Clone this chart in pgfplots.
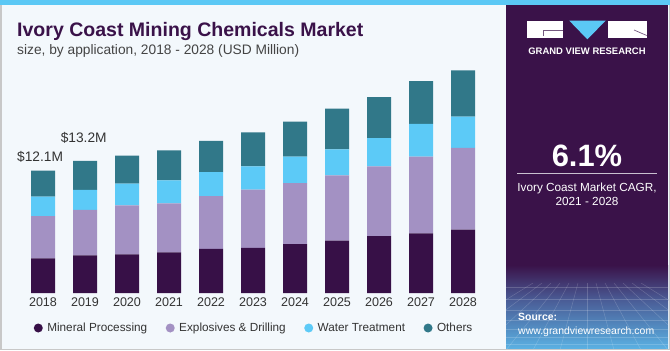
\documentclass[border=0pt]{standalone}
\usepackage{pgfplots}
\pgfplotsset{compat=1.18}
\usepackage{fontspec}
\setmainfont{Liberation Sans}
\definecolor{bgc}{HTML}{F3F8FC}
\definecolor{stripe}{HTML}{5BC8F5}
\definecolor{bordergray}{HTML}{C8C8C8}
\definecolor{panel}{HTML}{3A1249}
\definecolor{midc}{HTML}{4A5C96}
\definecolor{lowc}{HTML}{5AB0E2}
\definecolor{titlec}{HTML}{3A1249}
\definecolor{subc}{HTML}{444444}
\definecolor{tickc}{HTML}{333333}
\definecolor{mineral}{HTML}{371047}
\definecolor{explos}{HTML}{A391C3}
\definecolor{water}{HTML}{5CCAF7}
\definecolor{others}{HTML}{317889}
\definecolor{linec}{HTML}{C9C0D0}
\pgfplotsset{dotlegend/.style={legend image code/.code={\fill[##1] (0bp,0bp) circle (4.5bp);}}}
\begin{document}
\begin{tikzpicture}[x=1bp,y=1bp]
\useasboundingbox (0,0) rectangle (670,350);
\fill[bgc] (0,0) rectangle (670,350);
% right panel
\fill[panel] (506,0) rectangle (668,350);
\shade[top color=panel, bottom color=midc] (506,50) rectangle (668,85);
\shade[top color=midc, bottom color=lowc] (506,2) rectangle (668,50.2);
\begin{scope}
\clip (506,2) rectangle (668,67);
\foreach \yy in {6,13,21,30,40,51,63} \draw[white, opacity=0.18, line width=0.5] (506,\yy) -- (668,\yy);
\foreach \xx in {-90,-75,...,90} \draw[white, opacity=0.18, line width=0.5] (587+\xx*0.6,67) -- (587+\xx*1.8,0);
\end{scope}
% borders
\fill[bordergray] (0,0) rectangle (1.5,350);
\fill[bordergray] (668.5,0) rectangle (670,350);
\fill[bordergray] (0,0) rectangle (670,1.5);
\fill[stripe] (0,345) rectangle (670,350);
% logo
\fill[white] (527.3,312.3) rectangle (562.7,329.3);
\draw[panel!70!white, line width=0.7] (543,314) -- (543,319.3) -- (562.7,319.3);
\fill[white] (607.7,312.3) rectangle (646.7,329.3);
\draw[panel!70!white, line width=0.7] (634,320) -- (646.7,314.5);
\fill[stripe] (569.3,329.3) -- (605.7,329.3) -- (587.3,310.7) -- cycle;
\node[white, inner sep=0pt, font=\fontsize{9.5}{11}\selectfont\bfseries] at (587,298.3) {GRAND VIEW RESEARCH};
% CAGR
\node[white, anchor=base, inner sep=0pt, font=\fontsize{31}{34}\selectfont\bfseries] at (587,184) {6.1\%};
\draw[linec, line width=0.8] (517,176.7) -- (657,176.7);
\node[white, anchor=base, inner sep=0pt, font=\fontsize{11.8}{14}\selectfont] at (587,159) {Ivory Coast Market CAGR,};
\node[white, anchor=base, inner sep=0pt, font=\fontsize{11.8}{14}\selectfont] at (587,144.5) {2021 - 2028};
% source
\node[white, anchor=base west, inner sep=0pt, font=\fontsize{10.5}{12}\selectfont\bfseries] at (518,30) {Source:};
\node[white, anchor=base west, inner sep=0pt, font=\fontsize{10.5}{12}\selectfont] at (518,16) {www.grandviewresearch.com};
% titles
\node[anchor=base west, inner sep=0pt, text=titlec, font=\fontsize{19.6}{22}\selectfont\bfseries] at (17,314) {Ivory Coast Mining Chemicals Market};
\node[anchor=base west, inner sep=0pt, text=subc, font=\fontsize{13.8}{16}\selectfont] at (17,296) {size, by application, 2018 - 2028 (USD Million)};
\begin{axis}[
  at={(22bp,57bp)}, anchor=south west,
  scale only axis, width=462bp, height=233bp,
  xmin=2017.5, xmax=2028.5, ymin=0, ymax=23.067,
  ybar stacked, bar width=24bp,
  axis x line*=bottom, axis y line=none,
  x axis line style={draw=none},
  xtick={2018,2019,2020,2021,2022,2023,2024,2025,2026,2027,2028},
  xticklabels={2018,2019,2020,2021,2022,2023,2024,2025,2026,2027,2028},
  major tick length=0pt, xtick style={draw=none},
  xticklabel style={font=\fontsize{12.6}{14}\selectfont, text=tickc, yshift=-1.5bp},
  every axis plot post/.append style={dotlegend},
  legend columns=4,
  legend style={at={(0.0255,-0.1502)}, anchor=west, draw=none, fill=none,
    inner sep=0pt, outer sep=0pt,
    font=\fontsize{11.8}{13}\selectfont, text=tickc,
    nodes={inner xsep=4.5bp, inner ysep=1bp},
    /tikz/every even column/.append style={column sep=14bp}},
  clip=false,
]
\addplot[fill=mineral, draw=none] coordinates {(2018,3.44) (2019,3.73) (2020,3.83) (2021,4.03) (2022,4.36) (2023,4.46) (2024,4.85) (2025,5.19) (2026,5.64) (2027,5.91) (2028,6.28)};
\addplot[fill=explos, draw=none] coordinates {(2018,4.16) (2019,4.51) (2020,4.85) (2021,4.85) (2022,5.22) (2023,5.77) (2024,6.04) (2025,6.46) (2026,6.90) (2027,7.59) (2028,8.09)};
\addplot[fill=water, draw=none] coordinates {(2018,1.94) (2019,1.98) (2020,2.14) (2021,2.28) (2022,2.38) (2023,2.31) (2024,2.60) (2025,2.57) (2026,2.80) (2027,3.24) (2028,3.10)};
\addplot[fill=others, draw=none] coordinates {(2018,2.57) (2019,2.87) (2020,2.77) (2021,2.97) (2022,3.10) (2023,3.37) (2024,3.47) (2025,4.03) (2026,4.06) (2027,4.23) (2028,4.58)};
\legend{Mineral Processing, Explosives \& Drilling, Water Treatment, Others}
\node[font=\fontsize{13.8}{16}\selectfont, text=tickc, inner sep=0pt] at (axis cs:2017.93,13.46) {\$12.1M};
\node[font=\fontsize{13.8}{16}\selectfont, text=tickc, inner sep=0pt] at (axis cs:2018.97,15.34) {\$13.2M};
\end{axis}
\end{tikzpicture}
\end{document}
